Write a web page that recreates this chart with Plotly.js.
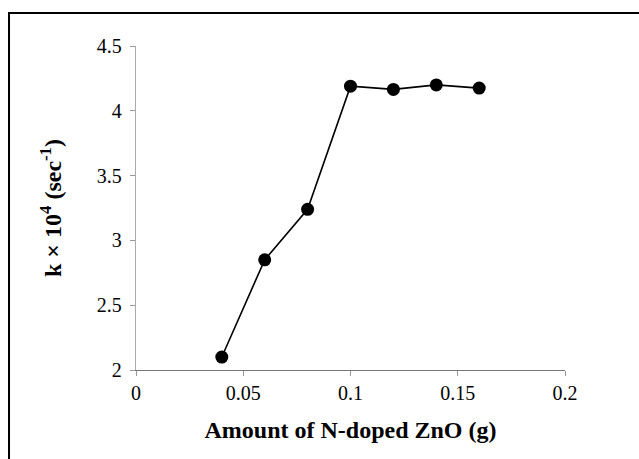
<!DOCTYPE html>
<html>
<head>
<meta charset="utf-8">
<script src="https://cdn.plot.ly/plotly-3.0.1.min.js"></script>
<style>html,body{margin:0;padding:0;background:#fff;}#chart{width:639px;height:459px;}</style>
</head>
<body>
<div id="chart"></div>
<script>
const amountG = [0.04, 0.06, 0.08, 0.10, 0.12, 0.14, 0.16];
const rateK = [2.10, 2.85, 3.24, 4.19, 4.165, 4.20, 4.175];
const xTicks = [0, 0.05, 0.1, 0.15, 0.2];
const xTickLabels = ['0', '0.05', '0.1', '0.15', '0.2'];
const yTicks = [2, 2.5, 3, 3.5, 4, 4.5];
const yTickLabels = ['2', '2.5', '3', '3.5', '4', '4.5'];

const trace = {
  x: amountG, y: rateK, type: 'scatter', mode: 'lines+markers',
  line: {color: '#000', width: 1.6},
  marker: {color: '#000', size: 13},
  cliponaxis: false, hoverinfo: 'none'
};
const fam = 'Liberation Serif, Times New Roman, serif';
const layout = {
  width: 639, height: 459,
  margin: {l: 136, r: 74, t: 46, b: 89},
  paper_bgcolor: '#fff', plot_bgcolor: '#fff',
  showlegend: false,
  font: {family: fam, size: 20, color: '#000'},
  xaxis: {
    range: [0, 0.2], tickvals: xTicks, ticktext: xTickLabels,
    showgrid: false, zeroline: false, showline: true, linecolor: '#777', linewidth: 1.3,
    ticks: 'outside', ticklen: 5, tickcolor: '#999', tickwidth: 1,
    tickfont: {family: fam, size: 20, color: '#000'},
    title: {text: '<b>Amount of N-doped ZnO (g)</b>', font: {family: fam, size: 24, color: '#000'}, standoff: 18},
    automargin: false
  },
  yaxis: {
    range: [2, 4.5], tickvals: yTicks, ticktext: yTickLabels,
    showgrid: false, zeroline: false, showline: true, linecolor: '#aaa', linewidth: 1.3,
    ticks: 'outside', ticklen: 5, tickcolor: '#999', tickwidth: 1,
    ticklabelstandoff: 4,
    tickfont: {family: fam, size: 20, color: '#000'},
    title: {text: '<b>k × 10<sup>4</sup> (sec<sup>-1</sup>)</b>', font: {family: fam, size: 24, color: '#000'}, standoff: 28},
    automargin: false
  },
  shapes: [{
    type: 'rect', xref: 'paper', yref: 'paper',
    x0: -0.296, x1: 1.4, y0: -0.4, y1: 1.102,
    line: {color: '#000', width: 2}, fillcolor: 'rgba(0,0,0,0)', layer: 'below'
  }]
};
Plotly.newPlot('chart', [trace], layout, {staticPlot: true, displayModeBar: false});
</script>
</body>
</html>
